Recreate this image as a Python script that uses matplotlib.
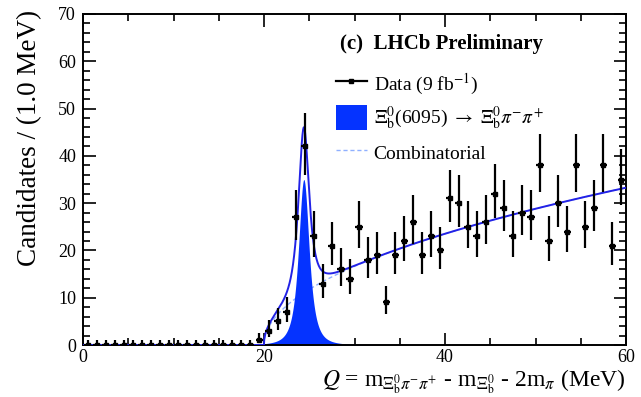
import numpy as np
import matplotlib
matplotlib.use("Agg")
import matplotlib.pyplot as plt
from matplotlib.ticker import MultipleLocator
from matplotlib.patches import Patch
from matplotlib.lines import Line2D

plt.rcParams['font.family'] = ['Liberation Serif', 'DejaVu Serif']
plt.rcParams['mathtext.fontset'] = 'stix'

# ---- data (1 MeV bins, centres 0.5 ... 59.5) ----
bin_centers = np.arange(0.5, 60.0, 1.0)
counts = [0, 0, 0, 0, 0, 0, 0, 0, 0, 0,
          0, 0, 0, 0, 0, 0, 0, 0, 0, 1,
          3, 5, 7, 27, 42, 23, 13, 21, 16, 14,
          25, 18, 19, 9, 19, 22, 26, 19, 23, 20,
          31, 30, 25, 23, 26, 32, 29, 23, 28, 27,
          38, 22, 30, 24, 38, 25, 29, 38, 21, 35]

# ---- fit model parameters ----
threshold = 20.0
bkg_coef = 5.26          # combinatorial ~ c*sqrt(Q - threshold)
sig_peak = 24.4
sig_amp = 35.0
sig_width = 0.9
sig_power = 1.5

counts = np.array(counts, dtype=float)
err_up = np.sqrt(counts + 0.25) + 0.5
err_lo = np.sqrt(counts + 0.25) - 0.5

q = np.linspace(0, 60, 2401)
above = q > threshold
bkg = np.where(above, bkg_coef * np.sqrt(np.clip(q - threshold, 0, None)), 0.0)
sig = np.where(above, sig_amp / (1 + ((q - sig_peak) / sig_width) ** 2) ** sig_power, 0.0)
total = bkg + sig

fig = plt.figure(figsize=(6.41, 3.97), dpi=100)
ax = fig.add_axes([83/641, 1-345/397, (626-83)/641, (345-14)/397])

fill_col = '#0533ff'
line_col = '#2222e6'
dash_col = '#8fb0ff'
ax.fill_between(q, 0, sig, color=fill_col, lw=0, zorder=2)
ax.plot(q, bkg, ls=(0, (3, 2)), color=dash_col, lw=1.0, zorder=1)
ax.plot(q, total, color=line_col, lw=1.4, zorder=3)
ax.errorbar(bin_centers, counts, yerr=[err_lo, err_up], xerr=0.4,
            fmt='s', ms=3.5, color='black', ecolor='black', elinewidth=1.6,
            capsize=0, zorder=4)

ax.set_xlim(0, 60)
ax.set_ylim(0, 70)
ax.xaxis.set_major_locator(MultipleLocator(20))
ax.xaxis.set_minor_locator(MultipleLocator(5))
ax.yaxis.set_major_locator(MultipleLocator(10))
ax.yaxis.set_minor_locator(MultipleLocator(2))
ax.tick_params(which='both', direction='in', top=True, right=True, width=1.2,
               labelsize=13, pad=5)
ax.tick_params(axis='x', which='major', pad=3)
ax.tick_params(which='major', length=9)
ax.tick_params(which='minor', length=5)
for s in ax.spines.values():
    s.set_linewidth(1.4)

ax.set_ylabel('Candidates / (1.0 MeV)', fontsize=19.5)
ax.yaxis.set_label_coords(-0.075, 0.625)

fig.text(626/641, 1-382/397,
         r'$Q$ = m$_{\Xi_{\mathrm{b}}^{0}\pi^{-}\pi^{+}}$ - m$_{\Xi_{\mathrm{b}}^{0}}$ - 2m$_{\pi}$ (MeV)',
         fontsize=17, ha='right', va='center')

fig.text(340/641, 1-44/397, '(c)  LHCb Preliminary', fontsize=15,
         fontweight='bold', ha='left', va='center')

handles = [
    Line2D([], [], color='black', marker='s', ms=3.5, lw=1.6),
    Patch(facecolor=fill_col, edgecolor='none'),
    Line2D([], [], color=dash_col, ls=(0, (3, 2)), lw=1.0),
]
labels = [r'Data (9 fb$^{-1}$)',
          r'$\Xi_{\mathrm{b}}^{0}$(6095) $\rightarrow$ $\Xi_{\mathrm{b}}^{0}\pi^{-}\pi^{+}$',
          'Combinatorial']
leg = ax.legend(handles, labels, loc='upper left',
                bbox_to_anchor=((328-83)/543, 1-(64-14)/331),
                frameon=False, fontsize=14, handlelength=1.6,
                handleheight=1.6, labelspacing=0.4, handletextpad=0.35,
                borderaxespad=0)

fig.savefig('out.png', dpi=100)
